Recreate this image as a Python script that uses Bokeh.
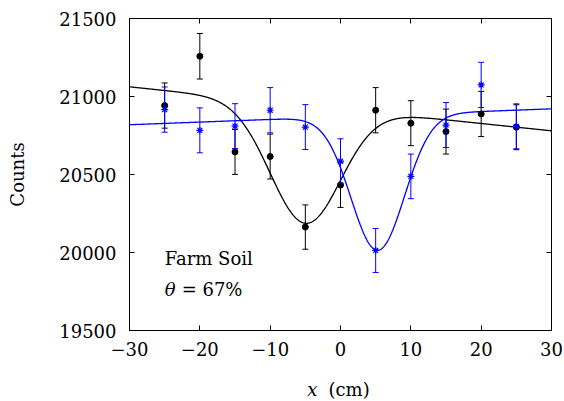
import numpy as np
from bokeh.plotting import figure
from bokeh.layouts import column
from bokeh.models import Range1d, FixedTicker, Label, LinearAxis
from bokeh.core.properties import value
from bokeh.embed import file_html
from bokeh.resources import INLINE

# ---- data ----
x_pos = [-25, -20, -15, -10, -5, 0, 5, 10, 15, 20, 25]
black_counts = [20942, 21258, 20645, 20615, 20163, 20432, 20912, 20829, 20775, 20888, 20803]
black_err = [145, 146, 144, 144, 142, 143, 145, 144, 144, 145, 144]
blue_counts = [20916, 20783, 20810, 20912, 20804, 20586, 20013, 20488, 20817, 21074, 20809]
blue_err = [145, 144, 144, 145, 144, 143, 141, 143, 144, 145, 144]

# fitted Gaussian-dip parameters (baseline a + b*x minus gaussian)
black_fit = dict(a=20921.0, b=-4.7, depth=757.0, center=-5.0, sigma=5.0)
blue_fit = dict(a=20870.0, b=1.7, depth=865.0, center=5.3, sigma=3.8)

x_ticks = [-30, -20, -10, 0, 10, 20, 30]
y_ticks = [19500, 20000, 20500, 21000, 21500]
x_min, x_max = -30, 30
y_min, y_max = 19500, 21500

FONT = "DejaVu Serif"
FS = "18px"
BLUE = "#0000ff"


def fit_curve(prm, xs):
    return prm["a"] + prm["b"] * xs - prm["depth"] * np.exp(-(xs - prm["center"]) ** 2 / (2 * prm["sigma"] ** 2))


p = figure(width=564, height=366, output_backend="svg", toolbar_location=None,
           x_range=Range1d(x_min, x_max), y_range=Range1d(y_min, y_max),
           min_border_left=129, min_border_right=13, min_border_top=18, min_border_bottom=36)
p.grid.visible = False
p.outline_line_color = "black"
p.background_fill_color = "white"
p.border_fill_color = "white"

for ax in (p.xaxis[0], p.yaxis[0]):
    ax.major_tick_in = 5
    ax.major_tick_out = 0
    ax.minor_tick_line_color = None
    ax.axis_line_color = "black"
    ax.major_tick_line_color = "black"
    ax.major_label_text_font = FONT
    ax.major_label_text_font_size = FS
    ax.major_label_text_color = "black"
    ax.axis_label_text_font = FONT
    ax.axis_label_text_font_size = FS
    ax.axis_label_text_font_style = "normal"
    ax.axis_label_text_color = "black"

p.xaxis[0].ticker = FixedTicker(ticks=x_ticks)
p.yaxis[0].ticker = FixedTicker(ticks=y_ticks)
p.xaxis[0].major_label_standoff = 11
p.yaxis[0].major_label_standoff = 13
p.yaxis[0].axis_label = "Counts"
p.yaxis[0].axis_label_standoff = 28

# mirrored tick marks on the top and right edges, without labels
top = LinearAxis(ticker=FixedTicker(ticks=x_ticks), major_label_text_color=None,
                 major_tick_in=5, major_tick_out=0, minor_tick_line_color=None,
                 major_label_standoff=0, axis_line_color="black", major_tick_line_color="black")
right = LinearAxis(ticker=FixedTicker(ticks=y_ticks), major_label_text_color=None,
                   major_tick_in=5, major_tick_out=0, minor_tick_line_color=None,
                   major_label_standoff=0, axis_line_color="black", major_tick_line_color="black")
p.add_layout(top, "above")
p.add_layout(right, "right")

# fit curves
xs = np.linspace(x_min, x_max, 601)
p.line(xs, fit_curve(black_fit, xs), line_color="black", line_width=1.3)
p.line(xs, fit_curve(blue_fit, xs), line_color=BLUE, line_width=1.3)

# black data with error bars
bx = np.array(x_pos, dtype=float)
by = np.array(black_counts, dtype=float)
be = np.array(black_err, dtype=float)
p.segment(bx, by - be, bx, by + be, line_color="black", line_width=1)
p.scatter(bx, by - be, marker="dash", size=6, line_color="black", line_width=1)
p.scatter(bx, by + be, marker="dash", size=6, line_color="black", line_width=1)
p.scatter(bx, by, marker="circle", size=6, fill_color="black", line_color="black")

# blue data with error bars
uy = np.array(blue_counts, dtype=float)
ue = np.array(blue_err, dtype=float)
p.segment(bx, uy - ue, bx, uy + ue, line_color=BLUE, line_width=1)
p.scatter(bx, uy - ue, marker="dash", size=6, line_color=BLUE, line_width=1)
p.scatter(bx, uy + ue, marker="dash", size=6, line_color=BLUE, line_width=1)
p.scatter(bx, uy, marker="asterisk", size=7, line_color=BLUE, line_width=1.2)

# annotations
p.add_layout(Label(x=-25, y=19962, text="Farm Soil", text_font=FONT, text_font_size=FS,
                   text_baseline="alphabetic", text_align="left", text_color="black"))
p.add_layout(Label(x=-25, y=19763, text="θ", text_font=FONT, text_font_size=FS,
                   text_font_style="italic", text_baseline="alphabetic", text_align="left", text_color="black"))
p.add_layout(Label(x=-25, y=19763, x_offset=17, text="= 67%", text_font=FONT, text_font_size=FS,
                   text_baseline="alphabetic", text_align="left", text_color="black"))

# x-axis title strip (italic x, upright units), same horizontal frame as the plot
q = figure(width=564, height=35, output_backend="svg", toolbar_location=None,
           x_range=Range1d(x_min, x_max), y_range=Range1d(0, 1),
           min_border_left=129, min_border_right=13, min_border_top=0, min_border_bottom=0)
q.axis.visible = False
q.grid.visible = False
q.outline_line_color = None
q.background_fill_color = "white"
q.border_fill_color = "white"
q.text(x=[0], y=[0.34], text=["x"], x_offset=-23, text_align="right", text_baseline="alphabetic",
       text_font=value(FONT), text_font_size=value(FS), text_font_style="italic", text_color="black")
q.text(x=[0], y=[0.34], text=["(cm)"], x_offset=-12, text_align="left", text_baseline="alphabetic",
       text_font=value(FONT), text_font_size=value(FS), text_color="black")

layout = column(p, q, spacing=0)
open("out.html", "w").write(file_html(layout, INLINE))
